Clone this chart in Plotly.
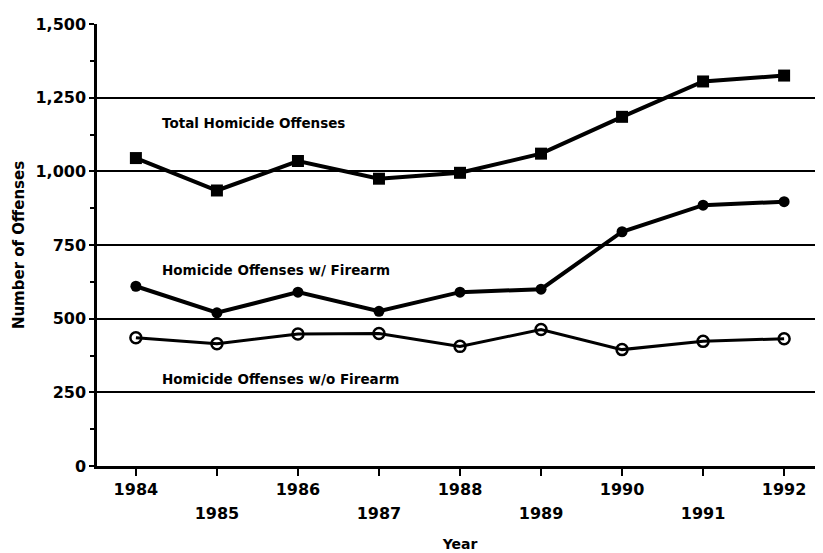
import plotly.graph_objects as go

years = [1984, 1985, 1986, 1987, 1988, 1989, 1990, 1991, 1992]
total = [1045, 935, 1035, 975, 995, 1060, 1185, 1305, 1325]
with_firearm = [610, 520, 590, 525, 590, 600, 795, 885, 897]
without_firearm = [435, 415, 448, 450, 406, 463, 395, 423, 432]

even_years = [y for y in years if y % 2 == 0]
odd_years = [y for y in years if y % 2 == 1]
y_ticks = [0, 250, 500, 750, 1000, 1250, 1500]

labels = ["Total Homicide Offenses", "Homicide Offenses w/ Firearm", "Homicide Offenses w/o Firearm"]
label_y = [1165, 665, 295]

FONT = "DejaVu Sans"
TICKF = dict(family=FONT, size=16, color="black", weight="bold")
fig = go.Figure()
fig.add_trace(go.Scatter(x=years, y=total, mode="lines+markers",
                         line=dict(color="black", width=4),
                         marker=dict(symbol="square", size=12, color="black"),
                         name=labels[0]))
fig.add_trace(go.Scatter(x=years, y=with_firearm, mode="lines+markers",
                         line=dict(color="black", width=4),
                         marker=dict(symbol="circle", size=11, color="black"),
                         name=labels[1]))
fig.add_trace(go.Scatter(x=years, y=without_firearm, mode="lines+markers",
                         line=dict(color="black", width=3),
                         marker=dict(symbol="circle-open", size=11, color="black",
                                     line=dict(width=2.5, color="black")),
                         name=labels[2]))

for t, yy in zip(labels, label_y):
    fig.add_annotation(x=1984.3, y=yy, xref="x", yref="y", text=t, showarrow=False,
                       xanchor="left", yanchor="middle",
                       font=dict(family=FONT, size=13.5, color="black", weight="bold"))

fig.update_layout(
    width=815, height=545,
    margin=dict(l=89, r=0, t=16, b=87),
    plot_bgcolor="white", paper_bgcolor="white",
    showlegend=False,
    font=dict(family=FONT, color="black"),
    xaxis=dict(range=[1983.52, 1992.48], tickvals=years,
               ticktext=[str(y) if y % 2 == 0 else "" for y in years],
               ticks="outside", ticklen=7, tickwidth=2, tickcolor="black",
               showline=True, linecolor="black", linewidth=2.5, showgrid=False,
               zeroline=False, automargin=False,
               tickfont=TICKF,
               title=dict(text="Year", standoff=42,
                          font=dict(family=FONT, size=14, color="black", weight="bold"))),
    xaxis2=dict(range=[1983.52, 1992.48], overlaying="x", side="bottom", anchor="y",
                tickvals=odd_years, ticktext=[str(y) for y in odd_years],
                ticks="", showline=False, showgrid=False, zeroline=False,
                ticklabelstandoff=36, automargin=False,
                tickfont=TICKF),
    yaxis=dict(range=[0, 1500], tickvals=y_ticks, tickformat=",",
               ticks="outside", ticklen=5, tickwidth=2, tickcolor="black",
               showline=True, linecolor="black", linewidth=2.5,
               showgrid=True, gridcolor="black", gridwidth=2, zeroline=False,
               automargin=False,
               minor=dict(dtick=125, tick0=0, ticks="outside", ticklen=4,
                          tickwidth=2, tickcolor="black", showgrid=False),
               tickfont=TICKF,
               title=dict(text="Number of Offenses", standoff=8,
                          font=dict(family=FONT, size=15, color="black", weight="bold"))),
)
fig.add_trace(go.Scatter(x=[None], y=[None], xaxis="x2", showlegend=False))
fig.write_html("out.html")
